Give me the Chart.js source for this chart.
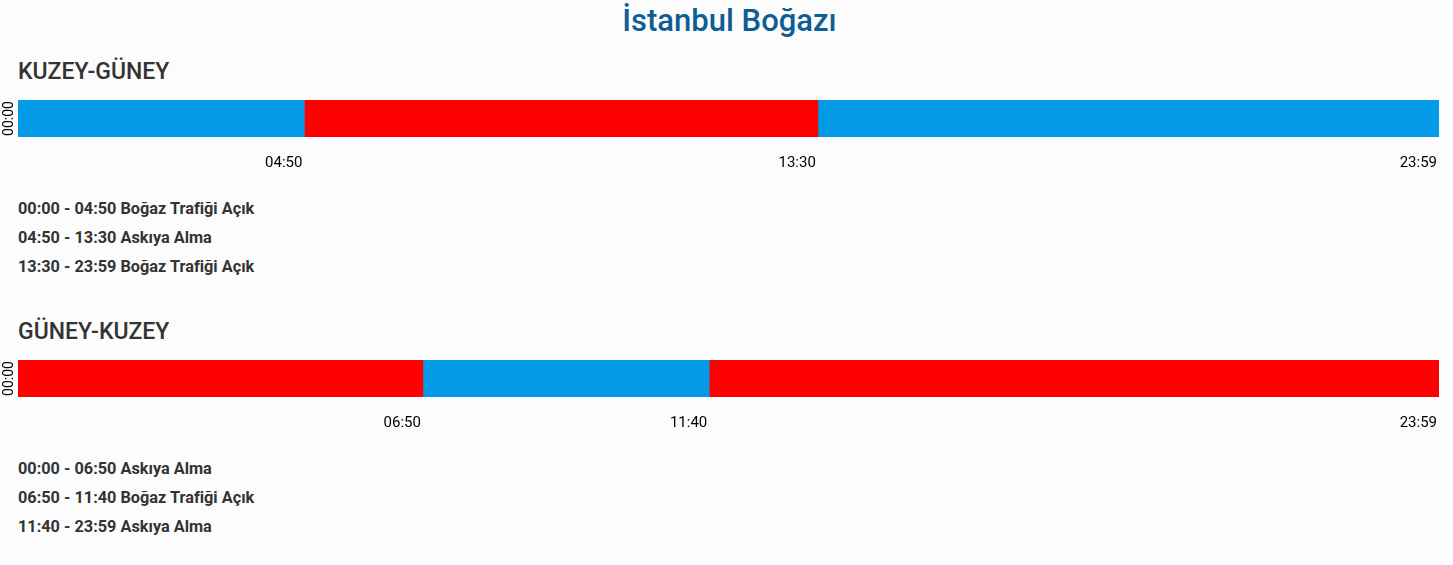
<!DOCTYPE html>
<html lang="tr">
<head>
<meta charset="utf-8">
<title>İstanbul Boğazı</title>
<script src="https://cdn.jsdelivr.net/npm/chart.js@4.4.1/dist/chart.umd.min.js"></script>
<style>
    html, body { margin: 0; padding: 0; background: #fcfcfc; }
    body { position: relative; width: 1453px; height: 565px; overflow: hidden; font-family: Roboto, sans-serif; }
    h1 { position: absolute; left: 3px; top: 1px; width: 1453px; margin: 0; text-align: center;
         font-size: 31px; line-height: 40px; font-weight: 500; color: #0d5e96; }
    h2 { position: absolute; left: 18px; margin: 0; font-size: 23px; line-height: 30px; font-weight: 500; color: #333; }
    .chart-box { position: absolute; left: 0; width: 1453px; height: 79px; }
    ul { position: absolute; left: 18px; margin: 0; padding: 0; list-style: none;
         font-size: 16.3px; line-height: 29px; font-weight: 700; color: #333; }
</style>
</head>
<body>
<h1>İstanbul Boğazı</h1>

<h2 style="top: 57px;">KUZEY-GÜNEY</h2>
<div class="chart-box" style="top: 88px;"><canvas id="kuzeyGuneyChart"></canvas></div>
<ul id="kuzeyGuneyList" style="top: 194px;"></ul>

<h2 style="top: 317px;">GÜNEY-KUZEY</h2>
<div class="chart-box" style="top: 348px;"><canvas id="guneyKuzeyChart"></canvas></div>
<ul id="guneyKuzeyList" style="top: 454px;"></ul>

<script>
// segment boundaries and the state of each segment
const rowLabels = ['00:00'];
const kuzeyGuneyTimes = ['00:00', '04:50', '13:30', '23:59'];
const kuzeyGuneyStates = ['Boğaz Trafiği Açık', 'Askıya Alma', 'Boğaz Trafiği Açık'];
const guneyKuzeyTimes = ['00:00', '06:50', '11:40', '23:59'];
const guneyKuzeyStates = ['Askıya Alma', 'Boğaz Trafiği Açık', 'Askıya Alma'];

const stateColors = {
    'Boğaz Trafiği Açık': '#039be5',
    'Askıya Alma': '#ff0000'
};

Chart.defaults.font.family = 'Roboto';
Chart.defaults.color = '#000';

function toMinutes(t) {
    const parts = t.split(':');
    return Number(parts[0]) * 60 + Number(parts[1]);
}

function toTime(m) {
    const h = Math.floor(m / 60);
    const mm = m % 60;
    return String(h).padStart(2, '0') + ':' + String(mm).padStart(2, '0');
}

function renderDirection(canvasId, listId, times, states) {
    const minutes = times.map(toMinutes);

    const datasets = states.map((state, i) => ({
        label: state,
        data: [[minutes[i], minutes[i + 1]]],
        backgroundColor: stateColors[state],
        borderWidth: 0,
        barPercentage: 1,
        categoryPercentage: 1,
        grouped: false
    }));

    new Chart(document.getElementById(canvasId), {
        type: 'bar',
        data: { labels: rowLabels, datasets: datasets },
        options: {
            indexAxis: 'y',
            responsive: true,
            maintainAspectRatio: false,
            animation: false,
            layout: { padding: { top: 12, right: 14, bottom: 0, left: 0 } },
            plugins: { legend: { display: false }, tooltip: { enabled: false } },
            scales: {
                x: {
                    type: 'linear',
                    min: minutes[0],
                    max: minutes[minutes.length - 1],
                    grid: { display: false },
                    border: { display: false },
                    afterBuildTicks: axis => {
                        axis.ticks = minutes.slice(1).map(v => ({ value: v }));
                    },
                    afterFit: axis => { axis.height = 30; },
                    ticks: {
                        align: 'end',
                        padding: 9,
                        labelOffset: -2,
                        autoSkip: false,
                        maxRotation: 0,
                        font: { size: 15 },
                        callback: value => toTime(value)
                    }
                },
                y: {
                    grid: { display: false },
                    border: { display: false },
                    ticks: { display: false },
                    afterFit: axis => { axis.width = 18; },
                    title: {
                        display: true,
                        text: rowLabels[0],
                        padding: { top: 1, bottom: 0 },
                        font: { size: 14 }
                    }
                }
            }
        }
    });

    const list = document.getElementById(listId);
    states.forEach((state, i) => {
        const li = document.createElement('li');
        li.innerText = times[i] + ' - ' + times[i + 1] + ' ' + state;
        list.appendChild(li);
    });
}

renderDirection('kuzeyGuneyChart', 'kuzeyGuneyList', kuzeyGuneyTimes, kuzeyGuneyStates);
renderDirection('guneyKuzeyChart', 'guneyKuzeyList', guneyKuzeyTimes, guneyKuzeyStates);
</script>
</body>
</html>
